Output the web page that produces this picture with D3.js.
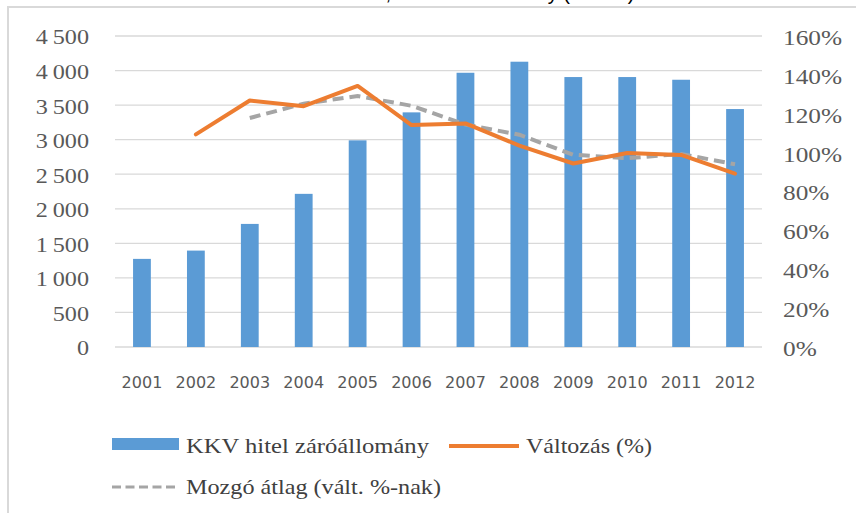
<!DOCTYPE html>
<html>
<head>
<meta charset="utf-8">
<script src="https://cdn.jsdelivr.net/npm/d3@7"></script>
<style>
  body { margin: 0; background: #fff; }
  svg { display: block; }
</style>
</head>
<body>
<div id="chart"></div>
<script>
// data
var years = ["2001","2002","2003","2004","2005","2006","2007","2008","2009","2010","2011","2012"];
var loans = [1275, 1395, 1781, 2216, 2990, 3395, 3968, 4128, 3906, 3906, 3867, 3443];
var change = [null, 109.4, 126.8, 123.9, 134.3, 114.2, 115.0, 103.6, 94.4, 99.8, 98.8, 89.2];
var movAvg = [null, null, 117.8, 125.2, 129.1, 124.1, 114.5, 109.2, 98.9, 97.1, 99.3, 94.0];
var leftTicks = [0, 500, 1000, 1500, 2000, 2500, 3000, 3500, 4000, 4500];
var rightTicks = [0, 20, 40, 60, 80, 100, 120, 140, 160];
var legendLabels = ["KKV hitel záróállomány", "Változás (%)", "Mozgó átlag (vált. %-nak)"];

var W = 856, H = 513;
var plot = {left: 115, right: 762, top: 36, bottom: 347};

var svg = d3.select("#chart").append("svg")
    .attr("width", W)
    .attr("height", H);

// chart frame
svg.append("rect")
    .attr("x", 8)
    .attr("y", 7)
    .attr("width", W + 20)
    .attr("height", H + 20)
    .style("fill", "#fff")
    .style("stroke", "#d9d9d9")
    .style("stroke-width", 2);

// title, mostly cut off above the frame
svg.append("text")
    .attr("x", 640)
    .attr("y", 0)
    .attr("text-anchor", "end")
    .style("font-family", "Liberation Sans")
    .style("font-size", "20px")
    .style("fill", "#000")
    .text("1. ábra: A KKV-k hitelezésének alakulása, hitel záróállomány (Mrd Ft).");

// scales
var x = d3.scaleBand()
    .domain(years)
    .range([plot.left, plot.right])
    .paddingInner(0.67)
    .paddingOuter(0.335);
var y = d3.scaleLinear().domain([0, 4500]).range([plot.bottom, plot.top]);
var y2 = d3.scaleLinear().domain([0, 160]).range([plot.bottom, plot.top]);

function fmtSpace(v) {
  return d3.format(",")(v).replace(/,/g, "\u2009");
}

// grid lines
svg.append("g").selectAll("line")
    .data(leftTicks)
  .enter().append("line")
    .attr("x1", plot.left)
    .attr("x2", plot.right)
    .attr("y1", function(d) { return y(d); })
    .attr("y2", function(d) { return y(d); })
    .style("stroke", "#d9d9d9")
    .style("stroke-width", 1.3);

// left axis
var leftAxis = svg.append("g")
    .attr("transform", "translate(" + (plot.left - 26) + ",0)")
    .call(d3.axisLeft(y).tickValues(leftTicks).tickSize(0).tickPadding(0).tickFormat(fmtSpace));
leftAxis.select(".domain").remove();
leftAxis.selectAll("text")
    .style("font-family", "Liberation Serif")
    .style("font-size", "21px")
    .style("fill", "#595959")
    .attr("dy", "0.38em");

// right axis
var rightAxis = svg.append("g")
    .attr("transform", "translate(783,0)")
    .call(d3.axisRight(y2).tickValues(rightTicks).tickSize(0).tickPadding(0)
      .tickFormat(function(d) { return d + "%"; }));
rightAxis.select(".domain").remove();
rightAxis.selectAll("text")
    .style("font-family", "Liberation Serif")
    .style("font-size", "22px")
    .style("fill", "#595959")
    .attr("dy", "0.38em");

// stretch axis labels a bit, as in the picture
svg.selectAll(".tick text").each(function() {
  var len = this.getComputedTextLength();
  d3.select(this)
      .attr("textLength", len * 1.15)
      .attr("lengthAdjust", "spacingAndGlyphs");
});

// x axis labels
var bottomAxis = svg.append("g")
    .attr("transform", "translate(0," + plot.bottom + ")")
    .call(d3.axisBottom(x).tickSize(0).tickPadding(0));
bottomAxis.select(".domain").remove();
bottomAxis.selectAll("text")
    .attr("y", 41)
    .attr("dy", 0)
    .style("font-family", "DejaVu Sans")
    .style("font-size", "16px")
    .style("fill", "#595959");

// bars
svg.append("g").selectAll("rect")
    .data(loans)
  .enter().append("rect")
    .attr("x", function(d, i) { return x(years[i]); })
    .attr("y", function(d) { return y(d); })
    .attr("width", x.bandwidth())
    .attr("height", function(d) { return plot.bottom - y(d); })
    .style("fill", "#5b9bd5");

// lines
var line = d3.line()
    .defined(function(d) { return d != null; })
    .x(function(d, i) { return x(years[i]) + x.bandwidth() / 2; })
    .y(function(d) { return y2(d); });

svg.append("path")
    .datum(movAvg)
    .attr("d", line)
    .style("fill", "none")
    .style("stroke", "#a5a5a5")
    .style("stroke-width", 4)
    .style("stroke-dasharray", "11,6");

svg.append("path")
    .datum(change)
    .attr("d", line)
    .style("fill", "none")
    .style("stroke", "#ed7d31")
    .style("stroke-width", 4)
    .style("stroke-linejoin", "round")
    .style("stroke-linecap", "round");

// legend
var legend = svg.append("g");
legend.append("rect")
    .attr("x", 112).attr("y", 438)
    .attr("width", 67).attr("height", 12)
    .style("fill", "#5b9bd5");
legend.append("line")
    .attr("x1", 449).attr("x2", 519)
    .attr("y1", 446).attr("y2", 446)
    .style("stroke", "#ed7d31")
    .style("stroke-width", 4);
legend.append("line")
    .attr("x1", 112).attr("x2", 179)
    .attr("y1", 487).attr("y2", 487)
    .style("stroke", "#a5a5a5")
    .style("stroke-width", 3)
    .style("stroke-dasharray", "9,4.5");

var legendPos = [[186, 453, 243], [526, 453, 126], [186, 494, 255]];
legend.selectAll("text")
    .data(legendLabels)
  .enter().append("text")
    .attr("x", function(d, i) { return legendPos[i][0]; })
    .attr("y", function(d, i) { return legendPos[i][1]; })
    .attr("textLength", function(d, i) { return legendPos[i][2]; })
    .attr("lengthAdjust", "spacingAndGlyphs")
    .style("font-family", "Liberation Serif")
    .style("font-size", "22px")
    .style("fill", "#404040")
    .text(function(d) { return d; });
</script>
</body>
</html>
